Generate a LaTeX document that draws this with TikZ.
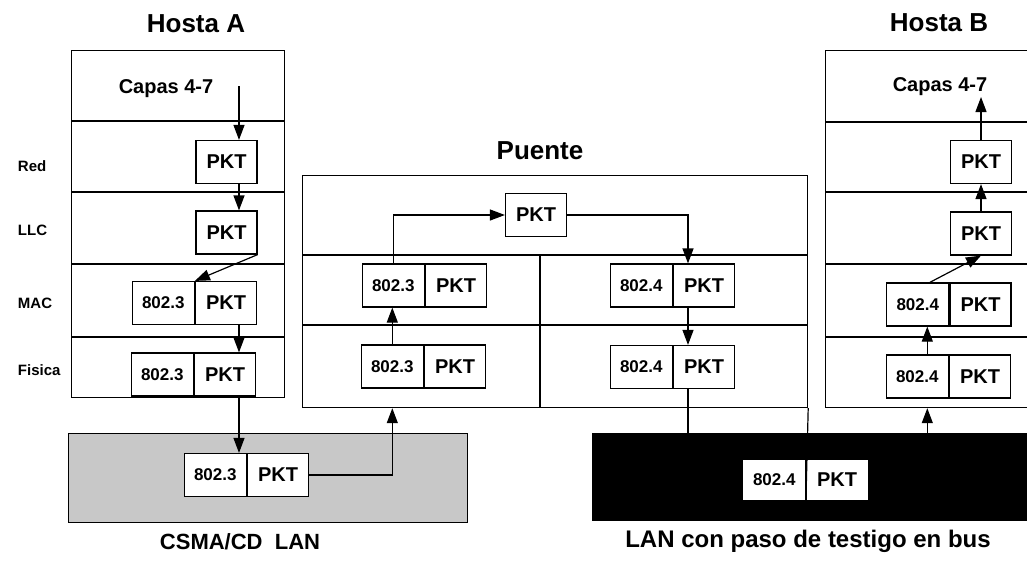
\documentclass[tikz,border=0pt]{standalone}
\usepackage{fontspec}
\setmainfont{Liberation Sans}
\definecolor{langray}{RGB}{200,200,200}
\usetikzlibrary{arrows.meta,positioning,calc}

\begin{document}
\begin{tikzpicture}[x=1pt, y=-1pt, line width=1.2pt,
  frame/.style={draw, inner sep=0pt, anchor=north west},
  pkt/.style={draw, fill=white, inner sep=0pt, minimum width=61pt, minimum height=43pt, font=\fontsize{20}{22}\selectfont\bfseries},
  hdr/.style={pkt, minimum width=62pt, font=\fontsize{17}{19}\selectfont\bfseries},
  layer/.style={anchor=west, font=\fontsize{15}{17}\selectfont\bfseries},
  capas/.style={font=\fontsize{20}{22}\selectfont\bfseries},
  title/.style={font=\fontsize{26}{28}\selectfont\bfseries},
  arr/.style={-{Triangle[length=15pt,width=11pt]}}]
  \useasboundingbox (0,0) rectangle (1027,560);

  % Frames
  \node[frame, minimum width=213pt, minimum height=347pt] (hostA) at (71,50) {};
  \node[frame, minimum width=505pt, minimum height=232pt] (bridge) at (302,175) {};
  \node[frame, minimum width=215pt, minimum height=357pt] (hostB) at (825,50) {};
  \node[frame, fill=langray, minimum width=399pt, minimum height=89pt] (csma) at (68,433) {};
  \node[frame, fill=black, minimum width=445pt, minimum height=87pt] (tbus) at (592,433) {};
  \foreach \y in {121,192,264,337} \draw (71,\y) -- (284,\y);
  \foreach \y in {122,192,264,337} \draw (825,\y) -- (1040,\y);
  \foreach \y in {255,325} \draw (302,\y) -- (807,\y);
  \draw (540,255) -- (540,407);

  % Titles
  \node[title] (ta) at (196,24) {Hosta A};
  \node[title] (tpu) at (540,151) {Puente};
  \node[title] (tb) at (939,23) {Hosta B};
  \node[title, font=\fontsize{22}{24}\selectfont\bfseries] (tcsma) at (240,542) {CSMA/CD\ \ LAN};
  \node[title, font=\fontsize{24}{26}\selectfont\bfseries] (tbusl) at (808,541) {LAN con paso de testigo en bus};

  % Layers
  \node[layer] (lred) at (14,166) {Red};
  \node[layer] (lllc) at (14,230) {LLC};
  \node[layer] (lmac) at (14,303) {MAC};
  \node[layer] (lfis) at (14,370) {Fisica};
  \node[capas] (acapas) at (166,89) {Capas 4-7};
  \node[capas] (bcapas) at (940,87) {Capas 4-7};

  % Hosta A
  \node[pkt] (ared) at (226.5,162) {PKT};
  \node[pkt] (allc) at (226.5,232.5) {PKT};
  \node[pkt] (amp) at (226,303) {PKT};
  \node[hdr, left=0pt of amp] (amh) {802.3};
  \node[pkt] (afp) at (225,374.5) {PKT};
  \node[hdr, left=0pt of afp] (afh) {802.3};

  % Puente
  \node[pkt] (ptop) at (536,215) {PKT};
  \node[pkt] (plmp) at (456,285.5) {PKT};
  \node[hdr, left=0pt of plmp] (plmh) {802.3};
  \node[pkt] (plfp) at (455,366.5) {PKT};
  \node[hdr, left=0pt of plfp] (plfh) {802.3};
  \node[pkt] (prmp) at (704,285.5) {PKT};
  \node[hdr, left=0pt of prmp] (prmh) {802.4};
  \node[pkt] (prfp) at (704,367) {PKT};
  \node[hdr, left=0pt of prfp] (prfh) {802.4};

  % Hosta B
  \node[pkt] (bred) at (981,162) {PKT};
  \node[pkt] (bllc) at (981,233.5) {PKT};
  \node[pkt] (bmp) at (980.5,304.5) {PKT};
  \node[hdr, left=0pt of bmp] (bmh) {802.4};
  \node[pkt] (bfp) at (980,376.5) {PKT};
  \node[hdr, left=0pt of bfp] (bfh) {802.4};

  % LANs
  \node[pkt] (lp) at (278,475) {PKT};
  \node[hdr, left=0pt of lp] (lh) {802.3};
  \node[pkt, draw=none, minimum height=40pt] (tbp) at (837,480) {PKT};
  \node[hdr, draw=none, minimum height=40pt, left=0pt of tbp] (tbh) {802.4};
  \draw (bridge.south east) -- (tbh.south east);

  % Arrows
  \coordinate (acap) at (239,86);
  \draw[arr] (acap) -- (acap |- ared.north);
  \draw[arr] (acap |- ared.south) -- (acap |- allc.north);
  \draw[arr] (allc.south east) -- (amh.north east);
  \draw[arr] (acap |- amp.south) -- (acap |- afp.north);
  \draw[arr] (acap |- afp.south) -- (acap |- lh.north);
  \draw[arr] (lp.east) -| (plfh |- bridge.south);
  \draw[arr] (plfh.north) -- (plfh.north |- plmh.south);
  \draw[arr] (plmh.north) |- (ptop.west);
  \coordinate (pdown) at ([xshift=-16pt]prmp.north);
  \draw[arr] (ptop.east) -| (pdown);
  \draw[arr] (pdown |- prmp.south) -- (pdown |- prfp.north);
  \draw (pdown |- prfp.south) -- (pdown |- tbus.north);
  \coordinate (bin) at ([xshift=10pt]bfh.south);
  \draw[arr] (bin |- tbus.north) -- (bin |- hostB.south);
  \draw[arr] (bin |- bfh.north) -- (bin |- bmh.south);
  \draw[arr] ([xshift=12pt]bmh.north) -- (bllc.south);
  \draw[arr] (bllc.north) -- (bred.south);
  \coordinate (bcap) at (981,97);
  \draw[arr] (bred.north) -- (bcap);
\end{tikzpicture}
\end{document}
